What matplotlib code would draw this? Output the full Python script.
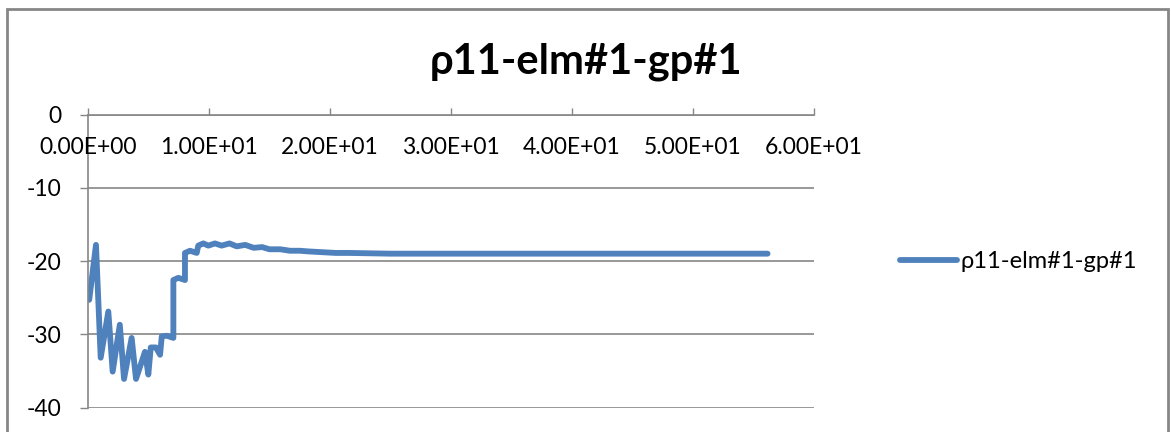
import matplotlib.pyplot as plt
from matplotlib.patches import Rectangle

# 数据
time = [0.1, 0.66, 1.05, 1.68, 2.04, 2.63, 2.98, 3.61, 3.97, 4.71, 4.99,
        5.19, 5.62, 5.96, 6.1, 6.51, 7.06, 7.06, 7.47, 8.02, 8.02, 8.44,
        8.99, 9.12, 9.54, 9.95, 10.5, 11.05, 11.7, 12.3, 13.0, 13.7, 14.4,
        15.0, 15.9, 16.7, 17.5, 18.3, 19.4, 20.5, 21.6, 25.0, 30.0, 40.0,
        50.0, 56.2]
rho = [-25.3, -17.8, -33.2, -26.9, -35.1, -28.7, -36.1, -30.5, -36.1, -32.4,
       -35.5, -31.8, -31.8, -32.8, -30.3, -30.2, -30.5, -22.6, -22.3, -22.6,
       -18.9, -18.6, -18.9, -17.9, -17.6, -17.9, -17.6, -17.9, -17.6, -18.0,
       -17.8, -18.2, -18.1, -18.4, -18.4, -18.6, -18.6, -18.7, -18.8, -18.9,
       -18.9, -19.0, -19.0, -19.0, -19.0, -19.0]

x_ticks = [0, 10, 20, 30, 40, 50, 60]
x_labels = ["0.00E+00", "1.00E+01", "2.00E+01", "3.00E+01",
            "4.00E+01", "5.00E+01", "6.00E+01"]
y_ticks = [0, -10, -20, -30, -40]
series_name = "ρ11-elm#1-gp#1"

plt.rcParams["font.family"] = ["Lato", "DejaVu Sans"]
W, H = 1171, 432
grey = "#868686"
blue = "#4F81BD"

fig = plt.figure(figsize=(W / 100, H / 100), dpi=100)
fig.patches.append(Rectangle((7 / W, -0.1), (1168 - 7) / W, 1.1 - 9 / H,
                             transform=fig.transFigure, fill=False,
                             edgecolor=grey, linewidth=2))

ax = fig.add_axes([88 / W, 1 - 407.5 / H, (813.5 - 88) / W, (407.5 - 114.5) / H])
ax.plot(time, rho, color=blue, linewidth=4.2, solid_joinstyle="round",
        solid_capstyle="round", label=series_name)

ax.set_xlim(0, 60)
ax.set_ylim(-40, 0)
ax.set_yticks(y_ticks)
ax.set_yticklabels([str(v) for v in y_ticks])
ax.set_xticks(x_ticks)
ax.tick_params(axis="y", direction="out", length=6, width=1, color=grey,
               labelsize=16.5, pad=13)
ax.tick_params(axis="x", direction="out", length=5, width=1, color=grey,
               top=True, bottom=False, labeltop=False, labelbottom=False)
ax.grid(axis="y", color=grey, linewidth=1.2)
for s in ["bottom", "right"]:
    ax.spines[s].set_visible(False)
for s in ["top", "left"]:
    ax.spines[s].set_color(grey)
    ax.spines[s].set_linewidth(1.2)

# x轴标签画在轴线下方
for xv, lab in zip(x_ticks, x_labels):
    ax.annotate(lab, xy=(xv, 1), xycoords=ax.get_xaxis_transform(),
                xytext=(0, -33), textcoords="offset pixels",
                ha="center", va="center", fontsize=16.5, annotation_clip=False)

fig.text(586 / W, 1 - 62 / H, series_name, ha="center", va="center",
         fontsize=30, fontweight="bold")

ax.legend(loc="center left", bbox_to_anchor=(900 / W, 1 - 262 / H),
          bbox_transform=fig.transFigure, frameon=False, fontsize=17,
          handlelength=2.4, handletextpad=0.15, borderpad=0, borderaxespad=0)

fig.savefig("out.png", dpi=100)
